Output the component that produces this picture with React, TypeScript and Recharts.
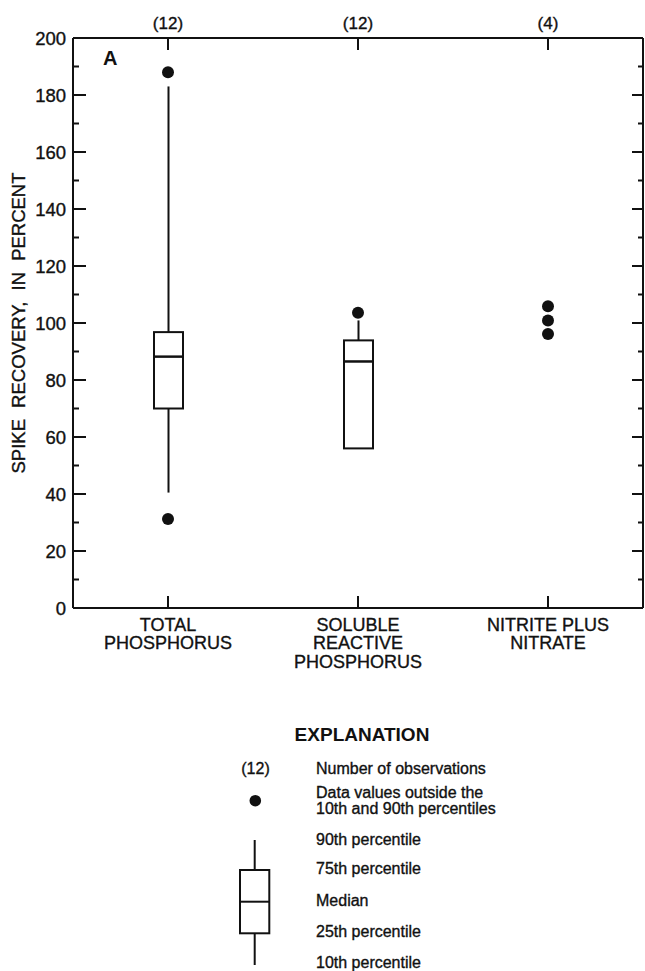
import React from 'react';
import { ComposedChart, Bar, Scatter, XAxis, YAxis } from 'recharts';

// categories along the bottom (line breaks kept in the label)
const categories = ['TOTAL\nPHOSPHORUS', 'SOLUBLE\nREACTIVE\nPHOSPHORUS', 'NITRITE PLUS\nNITRATE'];
const observations = [12, 12, 4];

// percentiles (null = no box drawn)
const p10 = [40.5, 56, null];
const p25 = [70, 56, null];
const median = [88.2, 86.5, null];
const p75 = [96.8, 93.9, null];
const p90 = [183, 100.9, null];

// values outside the 10th and 90th percentiles
const outlierCategory = [0, 0, 1, 2, 2, 2];
const outlierValue = [188, 31.2, 103.6, 105.9, 100.9, 96.1];

const yTicks = [0, 10, 20, 30, 40, 50, 60, 70, 80, 90, 100, 110, 120, 130, 140, 150, 160, 170, 180, 190, 200];

const INK = '#111';
const FONT = "'Liberation Sans', Arial, Helvetica, sans-serif";
// scanned print looks a bit heavier than plain regular weight
const heavy = { stroke: INK, strokeWidth: 0.35 };

const data = categories.map((name, i) => {
  const has = p25[i] != null;
  return {
    name,
    count: observations[i],
    base: has ? (p10[i] as number) : 0,
    lowWhisker: has ? (p25[i] as number) - (p10[i] as number) : 0,
    boxLow: has ? (median[i] as number) - (p25[i] as number) : 0,
    boxHigh: has ? (p75[i] as number) - (median[i] as number) : 0,
    highWhisker: has ? (p90[i] as number) - (p75[i] as number) : 0,
  };
});

const outliers = outlierCategory.map((c, i) => ({ name: categories[c], value: outlierValue[i] }));

const WhiskerShape = (props: any) => {
  const { x, y, width, height } = props;
  if (!height || Math.abs(height) < 0.5) return null;
  const cx = x + width / 2;
  return <line x1={cx} x2={cx} y1={y} y2={y + height} stroke={INK} strokeWidth={2} />;
};

const BoxShape = (props: any) => {
  const { x, y, width, height } = props;
  if (!height || Math.abs(height) < 0.5) return null;
  return <rect x={x} y={y} width={width} height={height} fill="none" stroke={INK} strokeWidth={2} />;
};

const DotShape = (props: any) => <circle cx={props.cx} cy={props.cy} r={6} fill={INK} />;

const CategoryTick = (props: any) => {
  const { x, y, payload } = props;
  const lines = String(payload.value).split('\n');
  return (
    <g>
      <line x1={x} x2={x} y1={y} y2={y - 12} stroke={INK} strokeWidth={2} />
      <text x={x} y={y + 22.5} textAnchor="middle" fontSize={18} fill={INK} fontFamily={FONT} {...heavy}>
        {lines.map((l, i) => (
          <tspan key={i} x={x} dy={i === 0 ? 0 : 18.5}>{l}</tspan>
        ))}
      </text>
    </g>
  );
};

const CountTick = (props: any) => {
  const { x, y, payload } = props;
  const row = data.find((d) => d.name === payload.value);
  return (
    <g>
      <line x1={x} x2={x} y1={y} y2={y + 12} stroke={INK} strokeWidth={2} />
      <text x={x} y={y - 9.5} textAnchor="middle" fontSize={17} fill={INK} fontFamily={FONT} {...heavy}>
        ({row ? row.count : ''})
      </text>
    </g>
  );
};

const LeftTick = (props: any) => {
  const { x, y, payload } = props;
  const major = payload.value % 20 === 0;
  return (
    <g>
      <line x1={x} x2={x + (major ? 13 : 6)} y1={y} y2={y} stroke={INK} strokeWidth={2} />
      {major && (
        <text x={x - 7} y={y + 6.5} textAnchor="end" fontSize={18.5} fill={INK} fontFamily={FONT} {...heavy}>
          {payload.value}
        </text>
      )}
    </g>
  );
};

const RightTick = (props: any) => {
  const { x, y, payload } = props;
  const major = payload.value % 20 === 0;
  return <line x1={x} x2={x - (major ? 11 : 5)} y1={y} y2={y} stroke={INK} strokeWidth={2} />;
};

const legendText = (x: number, y: number, s: string) => (
  <text x={x} y={y} fontSize={16} fill={INK} fontFamily={FONT} {...heavy}>{s}</text>
);

export default function App() {
  const axisLine = { stroke: INK, strokeWidth: 2 };
  return (
    <div style={{ position: 'absolute', left: 0, top: 0, width: 645, height: 971, background: '#fff', fontFamily: FONT }}>
      <ComposedChart
        width={645}
        height={700}
        data={data}
        margin={{ top: 18, right: 0, bottom: 12, left: 13 }}
        barSize={29}
      >
        <XAxis
          dataKey="name"
          type="category"
          allowDuplicatedCategory={false}
          interval={0}
          height={80}
          axisLine={axisLine}
          tickLine={false}
          tickSize={0}
          tickMargin={0}
          tick={<CategoryTick />}
        />
        <XAxis
          xAxisId="top"
          orientation="top"
          dataKey="name"
          type="category"
          interval={0}
          height={20}
          axisLine={axisLine}
          tickLine={false}
          tickSize={0}
          tickMargin={0}
          tick={<CountTick />}
        />
        <YAxis
          type="number"
          domain={[0, 200]}
          ticks={yTicks}
          interval={0}
          allowDataOverflow
          width={60}
          axisLine={axisLine}
          tickLine={false}
          tickSize={0}
          tickMargin={0}
          tick={<LeftTick />}
          label={{
            value: 'SPIKE RECOVERY, IN PERCENT',
            angle: -90,
            position: 'insideLeft',
            offset: 5,
            style: { textAnchor: 'middle', fontSize: 18.5, fill: INK, fontFamily: FONT, wordSpacing: 6, ...heavy },
          }}
        />
        <YAxis
          yAxisId="right"
          orientation="right"
          type="number"
          domain={[0, 200]}
          ticks={yTicks}
          interval={0}
          allowDataOverflow
          width={2}
          axisLine={axisLine}
          tickLine={false}
          tickSize={0}
          tickMargin={0}
          tick={<RightTick />}
        />
        <Bar dataKey="base" stackId="box" fill="none" isAnimationActive={false} />
        <Bar dataKey="lowWhisker" stackId="box" shape={<WhiskerShape />} isAnimationActive={false} />
        <Bar dataKey="boxLow" stackId="box" shape={<BoxShape />} isAnimationActive={false} />
        <Bar dataKey="boxHigh" stackId="box" shape={<BoxShape />} isAnimationActive={false} />
        <Bar dataKey="highWhisker" stackId="box" shape={<WhiskerShape />} isAnimationActive={false} />
        <Scatter data={outliers} dataKey="value" shape={<DotShape />} isAnimationActive={false} />
      </ComposedChart>

      <svg
        width={645}
        height={971}
        style={{ position: 'absolute', left: 0, top: 0, pointerEvents: 'none' }}
      >
        <text x={103} y={65} fontSize={20} fontWeight="bold" fill={INK} fontFamily={FONT}>A</text>

        <text x={362} y={741} textAnchor="middle" fontSize={19} fontWeight="bold" fill={INK} fontFamily={FONT}>
          EXPLANATION
        </text>
        <text x={255.5} y={774} textAnchor="middle" fontSize={16} fill={INK} fontFamily={FONT} {...heavy}>(12)</text>
        {legendText(316, 774, 'Number of observations')}
        <circle cx={255.3} cy={800.7} r={5.8} fill={INK} />
        {legendText(316, 798, 'Data values outside the')}
        {legendText(316, 814, '10th and 90th percentiles')}
        <line x1={254.7} x2={254.7} y1={840} y2={870} stroke={INK} strokeWidth={2} />
        <rect x={240} y={870} width={29.3} height={63.3} fill="none" stroke={INK} strokeWidth={2} />
        <line x1={240} x2={269.3} y1={901.7} y2={901.7} stroke={INK} strokeWidth={2} />
        <line x1={254.7} x2={254.7} y1={933.3} y2={965} stroke={INK} strokeWidth={2} />
        {legendText(316, 845.3, '90th percentile')}
        {legendText(316, 874.3, '75th percentile')}
        {legendText(316, 905.7, 'Median')}
        {legendText(316, 937.3, '25th percentile')}
        {legendText(316, 968.3, '10th percentile')}
      </svg>
    </div>
  );
}
